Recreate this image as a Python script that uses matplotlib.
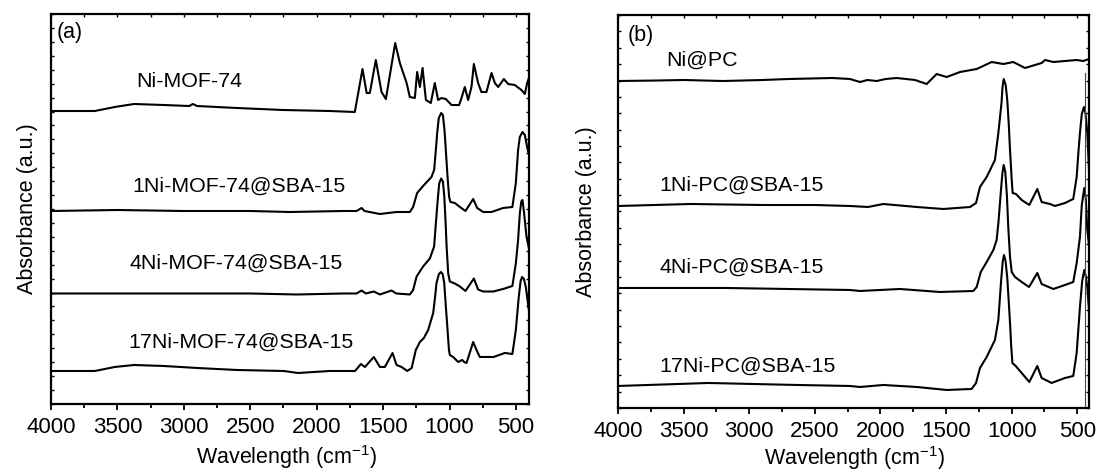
import numpy as np
import matplotlib
matplotlib.use("Agg")
import matplotlib.pyplot as plt
from matplotlib.ticker import MultipleLocator, NullFormatter

plt.rcParams['font.family'] = ['Liberation Sans', 'DejaVu Sans']
plt.rcParams['mathtext.fontset'] = 'custom'
plt.rcParams['mathtext.rm'] = 'Liberation Sans'
plt.rcParams['mathtext.it'] = 'Liberation Sans'

# ---- panel (a): Ni-MOF-74 series ----
wn_mof = [4000, 3670, 3520, 3375, 3150, 2960, 2932, 2900, 2600, 2250, 1900, 1713,
          1655, 1624, 1600, 1555, 1512, 1479, 1409, 1374, 1323, 1299, 1261, 1244,
          1223, 1203, 1178, 1141, 1111, 1086, 1061, 1028, 985, 928, 910, 885, 860,
          835, 817, 802, 785, 760, 722, 684, 659, 634, 591, 559, 509, 459, 433, 416, 400]
ab_mof = [0, 0, 0.04, 0.07, 0.06, 0.05, 0.07, 0.05, 0.03, 0.01, 0.0, -0.01,
          0.42, 0.18, 0.18, 0.51, 0.19, 0.12, 0.68, 0.48, 0.28, 0.14, 0.13, 0.39,
          0.24, 0.43, 0.11, 0.08, 0.28, 0.11, 0.13, 0.12, 0.06, 0.06, 0.13, 0.24, 0.11,
          0.24, 0.47, 0.38, 0.28, 0.19, 0.19, 0.38, 0.28, 0.24, 0.32, 0.27, 0.26, 0.21, 0.17, 0.28, 0.34]

wn_1mof = [4000, 3500, 3000, 2500, 2200, 1800, 1700, 1662, 1640, 1524, 1400, 1299,
           1274, 1244, 1199, 1136, 1116, 1103, 1093, 1081, 1063, 1050, 1038, 1028,
           1015, 1003, 993, 960, 922, 880, 822, 792, 747, 684, 597, 527, 501, 484,
           471, 451, 433, 416, 400]
ab_1mof = [0, 0.01, 0.0, 0.0, -0.01, 0.0, 0.0, 0.03, 0.0, -0.03, -0.01, -0.01,
           0.04, 0.18, 0.25, 0.34, 0.41, 0.61, 0.78, 0.93, 0.98, 0.96, 0.81, 0.61,
           0.34, 0.14, 0.09, 0.08, 0.04, 0.0, 0.12, 0.03, -0.01, -0.01, 0.03, 0.04, 0.28, 0.61,
           0.74, 0.79, 0.76, 0.64, 0.55]

wn_4mof = [4000, 3500, 3000, 2500, 2150, 1800, 1700, 1662, 1630, 1570, 1524, 1437,
           1400, 1299, 1274, 1248, 1199, 1148, 1116, 1103, 1090, 1078, 1063, 1050,
           1040, 1030, 1022, 1010, 998, 960, 922, 880, 817, 785, 747, 669, 584, 527,
           501, 484, 471, 460, 451, 440, 421, 400]
ab_4mof = [0, 0.0, 0.0, 0.0, -0.01, 0.0, 0.0, 0.03, 0.0, 0.02, -0.01, 0.03,
           0.0, -0.01, 0.035, 0.17, 0.27, 0.35, 0.47, 0.70, 0.92, 1.10, 1.15, 1.12,
           0.98, 0.72, 0.47, 0.20, 0.12, 0.10, 0.07, 0.025, 0.15, 0.04, 0.02, 0.02, 0.05, 0.075,
           0.30, 0.535, 0.80, 0.92, 0.935, 0.82, 0.57, 0.435]

wn_17mof = [4000, 3670, 3520, 3375, 3150, 2900, 2600, 2248, 2140, 1900, 1711, 1667,
            1637, 1570, 1524, 1487, 1429, 1399, 1361, 1318, 1285, 1254, 1223, 1193,
            1161, 1123, 1108, 1098, 1080, 1065, 1052, 1040, 1028, 1015, 1005, 998, 973,
            935, 920, 905, 890, 872, 822, 797, 772, 669, 584, 527, 501, 479, 465, 454,
            440, 426, 400]
ab_17mof = [0, 0.0, 0.04, 0.06, 0.05, 0.03, 0.01, 0.0, -0.02, 0.0, 0.0, 0.07,
            0.04, 0.14, 0.04, 0.04, 0.18, 0.06, 0.04, 0.0, 0.03, 0.21, 0.29, 0.33,
            0.41, 0.58, 0.75, 0.88, 0.97, 0.99, 0.97, 0.88, 0.65, 0.41, 0.22, 0.16, 0.14,
            0.09, 0.10, 0.11, 0.09, 0.08, 0.29, 0.21, 0.14, 0.14, 0.18, 0.17, 0.41, 0.74, 0.90, 0.94,
            0.92, 0.84, 0.58]

labels_a = ['Ni-MOF-74', '1Ni-MOF-74@SBA-15', '4Ni-MOF-74@SBA-15', '17Ni-MOF-74@SBA-15']
offsets_a = [2.93, 1.93, 1.105, 0.33]

# ---- panel (b): Ni@PC series ----
wn_pc = [4000, 3700, 3500, 3200, 2900, 2700, 2365, 2232, 2155, 2100, 2028, 1960,
         1876, 1736, 1647, 1571, 1495, 1393, 1266, 1152, 1063, 987, 898, 822, 771,
         745, 682, 504, 454, 410]
ab_pc = [0, 0.005, 0.01, 0.0, 0.01, 0.02, 0.03, 0.02, -0.01, 0.01, 0.0, 0.02,
         0.03, 0.01, -0.03, 0.07, 0.04, 0.09, 0.12, 0.19, 0.17, 0.19, 0.13, 0.16, 0.18,
         0.21, 0.19, 0.21, 0.20, 0.22]

wn_1pc = [4000, 3446, 2905, 2500, 2232, 2094, 1978, 1723, 1520, 1317, 1271, 1241,
          1190, 1127, 1101, 1077, 1069, 1060, 1045, 1033, 1022, 1012, 999, 992, 967,
          923, 865, 804, 771, 707, 669, 593, 530, 504, 490, 479, 465, 448, 436, 423, 410]
ab_1pc = [0, 0.02, 0.01, 0.01, 0.0, -0.01, 0.02, -0.01, -0.03, -0.01, 0.03, 0.19,
          0.29, 0.46, 0.73, 1.03, 1.19, 1.27, 1.21, 1.06, 0.83, 0.56, 0.26, 0.13, 0.12,
          0.06, 0.01, 0.17, 0.04, 0.02, 0.0, 0.03, 0.07, 0.29, 0.55, 0.73, 0.92, 0.99, 0.92, 0.73, 0.36]

wn_4pc = [4000, 3176, 2232, 2155, 1851, 1546, 1292, 1266, 1235, 1190, 1139, 1114,
          1100, 1082, 1070, 1060, 1048, 1036, 1025, 1012, 999, 974, 923, 867, 804,
          771, 682, 593, 530, 504, 479, 465, 446, 435, 423, 410]
ab_4pc = [0.02, 0.02, 0.0, -0.01, 0.01, -0.02, -0.01, 0.03, 0.18, 0.28, 0.40, 0.50,
          0.68, 0.98, 1.17, 1.25, 1.18, 0.95, 0.62, 0.33, 0.18, 0.13, 0.08, 0.03, 0.17,
          0.06, 0.01, 0.05, 0.08, 0.27, 0.53, 0.85, 1.02, 0.92, 0.60, 0.45]

wn_17pc = [4000, 3311, 2635, 2232, 2155, 1978, 1723, 1495, 1305, 1271, 1241, 1190,
           1127, 1101, 1080, 1068, 1058, 1046, 1033, 1022, 1012, 1003, 994, 969, 923,
           865, 804, 771, 695, 593, 530, 504, 479, 462, 446, 435, 423, 410]
ab_17pc = [0, 0.03, 0.01, 0.0, -0.01, 0.01, -0.01, -0.04, -0.03, 0.03, 0.18, 0.29,
           0.46, 0.66, 1.05, 1.24, 1.31, 1.25, 1.08, 0.85, 0.63, 0.40, 0.23, 0.20, 0.13,
           0.04, 0.20, 0.08, 0.03, 0.08, 0.10, 0.33, 0.79, 1.05, 1.16, 1.10, 0.99, 0.76]

labels_b = ['Ni@PC', '1Ni-PC@SBA-15', '4Ni-PC@SBA-15', '17Ni-PC@SBA-15']
offsets_b = [3.27, 2.02, 1.18, 0.22]

spec_a = [(wn_mof, ab_mof), (wn_1mof, ab_1mof), (wn_4mof, ab_4mof), (wn_17mof, ab_17mof)]
spec_b = [(wn_pc, ab_pc), (wn_1pc, ab_1pc), (wn_4pc, ab_4pc), (wn_17pc, ab_17pc)]

# label anchor points (wavenumber, absorbance)
lab_pos_a = [(3355, 3.167), (3390, 2.123), (3406, 1.35), (3420, 0.56)]
lab_pos_b = [(3629, 3.42), (3684, 2.17), (3687, 1.353), (3684, 0.363)]

fig = plt.figure(figsize=(11.01, 4.75), dpi=100)
ax1 = fig.add_axes([0.0463, 0.1495, 0.4344, 0.8210])
ax2 = fig.add_axes([0.5613, 0.1411, 0.4278, 0.8273])


def style_axis(ax, xmin, ytop, nyt):
    ax.set_xlim(4000, xmin)
    ax.set_ylim(0, ytop)
    ax.xaxis.set_major_locator(MultipleLocator(500))
    ax.xaxis.set_minor_locator(MultipleLocator(250))
    ax.set_yticks(np.linspace(0, ytop, nyt + 1))
    ax.yaxis.set_major_formatter(NullFormatter())
    ax.tick_params(axis='x', which='major', direction='out', length=4.5, width=1.3,
                   labelsize=16, pad=5, top=False)
    ax.tick_params(axis='x', which='minor', direction='out', length=3, width=1.3, top=False)
    ax.tick_params(axis='y', which='major', direction='in', length=2.2, width=1.0,
                   left=True, right=True)
    # top ticks
    sec = ax.secondary_xaxis('top')
    sec.xaxis.set_major_locator(MultipleLocator(250))
    sec.tick_params(direction='in', length=2.2, width=1.0, labeltop=False)
    sec.spines['top'].set_visible(False)
    for s in ax.spines.values():
        s.set_linewidth(1.6)
    ax.set_ylabel('Absorbance (a.u.)', fontsize=15.5)
    ax.set_xlabel('Wavelength (cm$^{-1}$)', fontsize=15.5)


style_axis(ax1, 400, 3.90, 28)
style_axis(ax2, 410, 3.93, 24)

for (wn, ab), off in zip(spec_a, offsets_a):
    ax1.plot(wn, np.array(ab) + off, color='black', lw=1.5)
for (wn, ab), off in zip(spec_b, offsets_b):
    ax2.plot(wn, np.array(ab) + off, color='black', lw=1.5)

for (x, y), t in zip(lab_pos_a, labels_a):
    ax1.text(x, y, t, fontsize=15.4, ha='left', va='baseline')
for (x, y), t in zip(lab_pos_b, labels_b):
    ax2.text(x, y, t, fontsize=15.4, ha='left', va='baseline')

ax1.text(3955, 3.72, '(a)', fontsize=15.5, ha='left', va='center')
ax2.text(3924, 3.73, '(b)', fontsize=15.5, ha='left', va='center')

# thin reference line in panel (b)
ax2.plot([440, 440], [0, 3.35], color='#444444', lw=0.8)

ax1.yaxis.set_label_coords(-0.027, 0.5)
ax2.yaxis.set_label_coords(-0.045, 0.5)
ax1.xaxis.set_label_coords(0.492, -0.10)
ax2.xaxis.set_label_coords(0.503, -0.092)

fig.savefig('out.png', dpi=100)
